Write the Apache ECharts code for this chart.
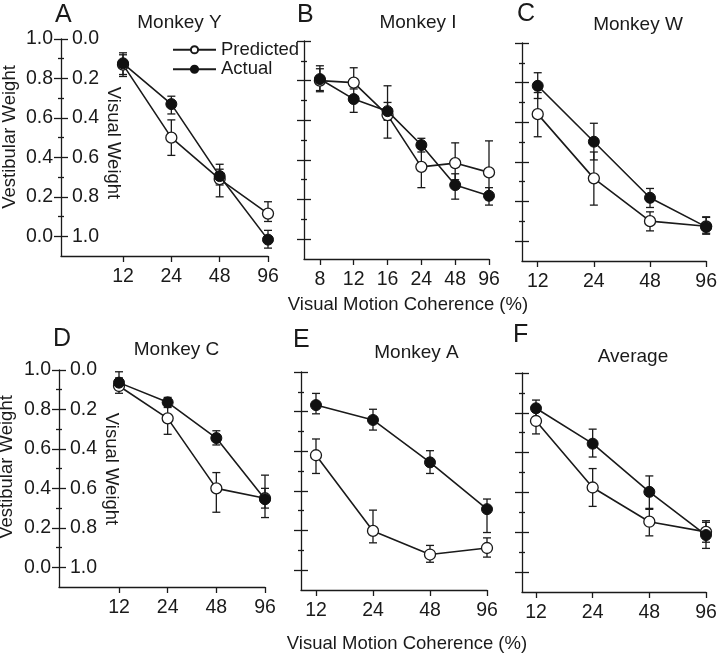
<!DOCTYPE html>
<html><head><meta charset="utf-8">
<script src="https://cdn.jsdelivr.net/npm/echarts@6/dist/echarts.min.js"></script>
<style>html,body{margin:0;padding:0;background:#fff}#c{width:720px;height:655px}</style>
</head><body><div id="c"></div>
<script>
// ---------------- DATA ----------------
const catsY = ['12','24','48','96'];
const predY = [0.87, 0.50, 0.29, 0.115];
const predYLo = [0.82, 0.41, 0.20, 0.075];
const predYHi = [0.92, 0.59, 0.34, 0.175];
const actY = [0.877, 0.67, 0.305, -0.017];
const actYLo = [0.81, 0.62, 0.26, -0.06];
const actYHi = [0.93, 0.71, 0.365, 0.03];

const catsI = ['8','12','16','24','48','96'];
const predI = [0.80, 0.79, 0.626, 0.365, 0.384, 0.337];
const predILo = [0.744, 0.758, 0.51, 0.26, 0.30, 0.20];
const predIHi = [0.86, 0.865, 0.774, 0.46, 0.486, 0.496];
const actI = [0.808, 0.707, 0.646, 0.475, 0.273, 0.219];
const actILo = [0.75, 0.64, 0.60, 0.44, 0.202, 0.172];
const actIHi = [0.875, 0.77, 0.69, 0.509, 0.33, 0.26];

const catsW = ['12','24','48','96'];
const predW = [0.641, 0.317, 0.101, 0.075];
const predWLo = [0.527, 0.182, 0.052, 0.035];
const predWHi = [0.75, 0.45, 0.148, 0.12];
const actW = [0.784, 0.502, 0.219, 0.072];
const actWLo = [0.72, 0.41, 0.17, 0.04];
const actWHi = [0.85, 0.595, 0.266, 0.123];

const catsC = ['12','24','48','96'];
const predC = [0.919, 0.755, 0.40, 0.35];
const predCLo = [0.882, 0.674, 0.279, 0.30];
const predCHi = [0.96, 0.83, 0.48, 0.40];
const actC = [0.936, 0.836, 0.655, 0.345];
const actCLo = [0.90, 0.81, 0.62, 0.252];
const actCHi = [0.991, 0.861, 0.692, 0.467];

const catsA = ['12','24','48','96'];
const predA = [0.58, 0.198, 0.079, 0.112];
const predALo = [0.488, 0.138, 0.04, 0.066];
const predAHi = [0.662, 0.303, 0.125, 0.163];
const actA = [0.833, 0.758, 0.544, 0.308];
const actALo = [0.789, 0.707, 0.488, 0.19];
const actAHi = [0.892, 0.812, 0.603, 0.359];

const catsAvg = ['12','24','48','96'];
const predAvg = [0.759, 0.425, 0.253, 0.202];
const predAvgLo = [0.694, 0.33, 0.182, 0.15];
const predAvgHi = [0.82, 0.52, 0.32, 0.25];
const actAvg = [0.823, 0.645, 0.403, 0.186];
const actAvgLo = [0.78, 0.578, 0.315, 0.119];
const actAvgHi = [0.864, 0.718, 0.483, 0.258];

const majorTicks = [0, 0.2, 0.4, 0.6, 0.8, 1.0];
const minorTicks = [0.1, 0.3, 0.5, 0.7, 0.9];

const panelLetters = ['A','B','C','D','E','F'];
const panelTitles = ['Monkey Y','Monkey I','Monkey W','Monkey C','Monkey A','Average'];
const xTitle = 'Visual Motion Coherence (%)';
const yLeftTitle = 'Vestibular Weight';
const yRightTitle = 'Visual Weight';

// ---------------- BUILD ----------------
const panels = [
  {cats:catsY, pred:predY, predLo:predYLo, predHi:predYHi, act:actY, actLo:actYLo, actHi:actYHi},
  {cats:catsI, pred:predI, predLo:predILo, predHi:predIHi, act:actI, actLo:actILo, actHi:actIHi},
  {cats:catsW, pred:predW, predLo:predWLo, predHi:predWHi, act:actW, actLo:actWLo, actHi:actWHi},
  {cats:catsC, pred:predC, predLo:predCLo, predHi:predCHi, act:actC, actLo:actCLo, actHi:actCHi},
  {cats:catsA, pred:predA, predLo:predALo, predHi:predAHi, act:actA, actLo:actALo, actHi:actAHi},
  {cats:catsAvg, pred:predAvg, predLo:predAvgLo, predHi:predAvgHi, act:actAvg, actLo:actAvgLo, actHi:actAvgHi}
];

const layout = [
  {left:61, top:39, width:207, height:217, off:1.283, labels:true},
  {left:304, top:41, width:185, height:218, off:0.47, labels:false},
  {left:522, top:43, width:187, height:218, off:0.28, labels:false},
  {left:59, top:370, width:206, height:217, off:1.233, labels:true},
  {left:301, top:372, width:186, height:218, off:0.263, labels:false},
  {left:522, top:373, width:184, height:219, off:0.247, labels:false}
];

const FONT = '"Liberation Sans", Arial, Helvetica, sans-serif';
const INK = '#1a1a1a';
const FS = 18.5;
const FS_TICK = 19.5;
const AX = {color: INK, width: 1.3};

function errRender(params, api) {
  const x = api.value(0), lo = api.value(1), hi = api.value(2);
  const a = api.coord([x, lo]), b = api.coord([x, hi]);
  const w = 4;
  const st = {stroke: INK, lineWidth: 1.3, fill: null};
  return {type: 'group', children: [
    {type: 'line', shape: {x1: a[0], y1: a[1], x2: b[0], y2: b[1]}, style: st},
    {type: 'line', shape: {x1: a[0]-w, y1: a[1], x2: a[0]+w, y2: a[1]}, style: st},
    {type: 'line', shape: {x1: b[0]-w, y1: b[1], x2: b[0]+w, y2: b[1]}, style: st}
  ]};
}

const grid = [], xAxis = [], yAxis = [], series = [];
panels.forEach((p, i) => {
  const L = layout[i];
  grid.push({left: L.left, top: L.top, width: L.width, height: L.height});
  const idx = p.cats.map((_, k) => k);
  xAxis.push({
    type: 'value', gridIndex: i, min: -L.off, max: p.cats.length - 1,
    axisLine: {show: true, onZero: false, lineStyle: AX},
    axisTick: {show: true, customValues: idx, length: 6, lineStyle: AX},
    axisLabel: {customValues: idx, formatter: v => p.cats[Math.round(v)], fontSize: FS_TICK, fontFamily: FONT, color: INK, margin: 11},
    splitLine: {show: false}
  });
  const base = {type: 'value', gridIndex: i, min: -0.1, max: 1.0, position: 'left', splitLine: {show: false}};
  yAxis.push(Object.assign({}, base, {
    axisLine: {show: true, onZero: false, lineStyle: AX},
    axisTick: {show: true, customValues: majorTicks, length: 7, lineStyle: AX},
    axisLabel: {show: L.labels, customValues: majorTicks, formatter: v => (+v).toFixed(1), fontSize: FS_TICK, fontFamily: FONT, color: INK, margin: 8}
  }));
  yAxis.push(Object.assign({}, base, {
    axisLine: {show: false, onZero: false},
    axisTick: {show: true, inside: true, customValues: majorTicks, length: 7, lineStyle: AX},
    axisLabel: {show: L.labels, inside: true, customValues: majorTicks, formatter: v => (1 - v).toFixed(1), fontSize: FS_TICK, fontFamily: FONT, color: INK, margin: 11}
  }));
  yAxis.push(Object.assign({}, base, {
    axisLine: {show: false, onZero: false},
    axisTick: {show: true, customValues: minorTicks, length: 3, lineStyle: AX},
    axisLabel: {show: false}
  }));
  yAxis.push(Object.assign({}, base, {
    axisLine: {show: false, onZero: false},
    axisTick: {show: true, inside: true, customValues: minorTicks, length: 3, lineStyle: AX},
    axisLabel: {show: false}
  }));
  const yi = i * 4;
  series.push({type: 'custom', name: 'errPred', xAxisIndex: i, yAxisIndex: yi, renderItem: errRender, z: 1,
    encode: {x: 0, y: 1}, data: idx.map(k => [k, p.predLo[k], p.predHi[k]]), silent: true});
  series.push({type: 'custom', name: 'errAct', xAxisIndex: i, yAxisIndex: yi, renderItem: errRender, z: 1,
    encode: {x: 0, y: 1}, data: idx.map(k => [k, p.actLo[k], p.actHi[k]]), silent: true});
  series.push({type: 'line', name: 'Predicted', xAxisIndex: i, yAxisIndex: yi, z: 2,
    data: idx.map(k => [k, p.pred[k]]), symbol: 'circle', symbolSize: 11, showAllSymbol: true,
    lineStyle: {color: INK, width: 1.6}, itemStyle: {color: '#ffffff', borderColor: INK, borderWidth: 1.3},
    emphasis: {disabled: true}, clip: false});
  series.push({type: 'line', name: 'Actual', xAxisIndex: i, yAxisIndex: yi, z: 3,
    data: idx.map(k => [k, p.act[k]]), symbol: 'circle', symbolSize: 11, showAllSymbol: true,
    lineStyle: {color: INK, width: 1.6}, itemStyle: {color: '#111111', borderColor: '#111111', borderWidth: 1},
    emphasis: {disabled: true}, clip: false});
});

function txt(text, x, y, opts) {
  opts = opts || {};
  return {type: 'text', x: x, y: y, rotation: opts.rot || 0, silent: true,
    style: {text: text, fontSize: opts.fs || FS, fontFamily: FONT, fill: INK,
      align: opts.align || 'center', verticalAlign: 'middle',
      textAlign: opts.align || 'center', textVerticalAlign: 'middle'}};
}

const letterPos = [[55,15],[297,15],[517,14],[53,339],[293,340],[513,335]];
const titlePos = [[179.5,22.5],[418,23],[638,25],[176.5,350],[416.5,353],[633,356.5]];
const graphic = [];
panelLetters.forEach((l, i) => graphic.push(txt(l, letterPos[i][0], letterPos[i][1], {fs: 25, align: 'left'})));
panelTitles.forEach((t, i) => graphic.push(txt(t, titlePos[i][0], titlePos[i][1], {fs: 19})));
graphic.push(txt(xTitle, 408, 305));
graphic.push(txt(xTitle, 407, 644));
graphic.push(txt(yLeftTitle, 10, 137, {rot: Math.PI / 2}));
graphic.push(txt(yLeftTitle, 7, 467, {rot: Math.PI / 2}));
graphic.push(txt(yRightTitle, 113, 143, {rot: -Math.PI / 2}));
graphic.push(txt(yRightTitle, 111, 469, {rot: -Math.PI / 2}));

const chart = echarts.init(document.getElementById('c'), null, {renderer: 'canvas'});
chart.setOption({
  animation: false,
  backgroundColor: '#ffffff',
  grid, xAxis, yAxis, series, graphic,
  legend: {
    data: ['Predicted', 'Actual'], orient: 'vertical', left: 167, top: 35,
    itemWidth: 43, itemHeight: 9, itemGap: 0, selectedMode: false,
    textStyle: {fontSize: FS, fontFamily: FONT, color: INK, lineHeight: 19.5}
  }
});
</script>
</body></html>
